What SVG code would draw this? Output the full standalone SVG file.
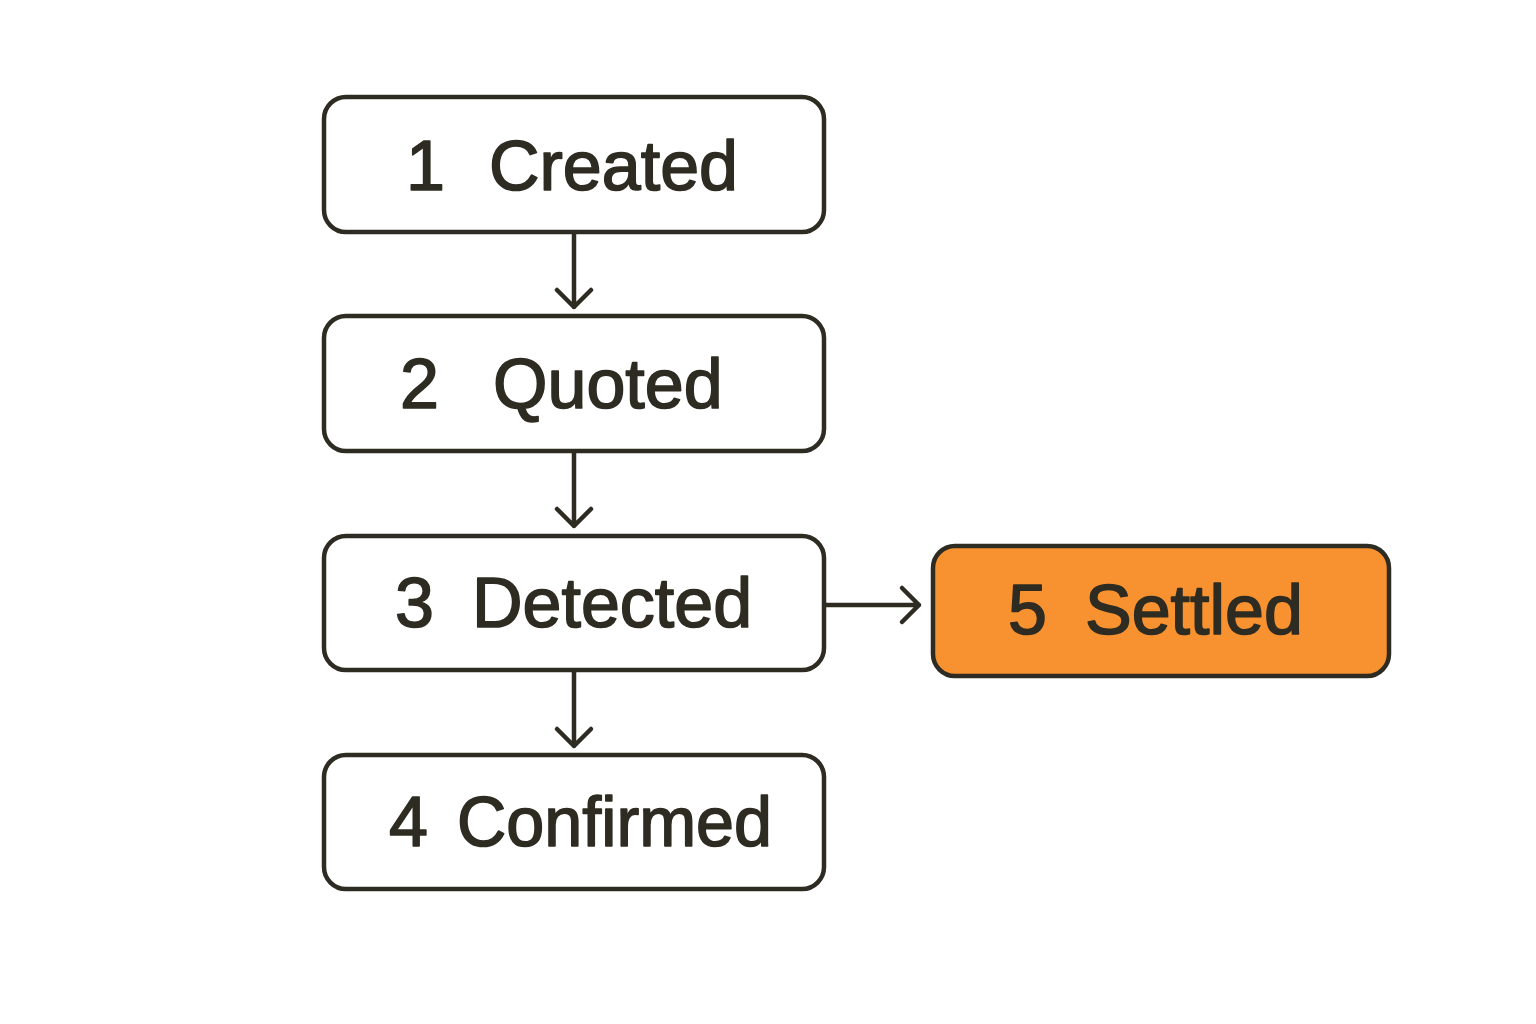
<svg xmlns="http://www.w3.org/2000/svg" width="1536" height="1024" viewBox="0 0 1536 1024">
<style>
.box{fill:#ffffff;stroke:#2e2c22;stroke-width:4.5}
.hl{fill:#f89230;stroke:#2e2c22;stroke-width:4.5}
.t{font-family:"Liberation Sans",Arial,sans-serif;font-size:70px;fill:#2e2c22;stroke:#2e2c22;stroke-width:1.6;stroke-linejoin:round}
.c{fill:none;stroke:#2e2c22;stroke-width:4.5;stroke-linecap:round;stroke-linejoin:round}
</style>
<rect width="1536" height="1024" fill="#ffffff"/>
<g id="connectors">
<path class="c" d="M574 234 V307 M557 290 L574 307 L591 290"/>
<path class="c" d="M574 453 V526 M557 509 L574 526 L591 509"/>
<path class="c" d="M574 672 V746 M557 729 L574 746 L591 729"/>
<path class="c" d="M826 605 H919 M902 588 L919 605 L902 622"/>
</g>
<g id="node1">
<rect class="box" x="324" y="97" width="500" height="135" rx="22"/>
<text class="t"><tspan x="406" y="190">1</tspan><tspan x="489" y="190">Created</tspan></text>
</g>
<g id="node2">
<rect class="box" x="324" y="316" width="500" height="135" rx="22"/>
<text class="t"><tspan x="400" y="408">2</tspan><tspan x="493" y="408">Quoted</tspan></text>
</g>
<g id="node3">
<rect class="box" x="324" y="536" width="500" height="134" rx="22"/>
<text class="t"><tspan x="395" y="627">3</tspan><tspan x="472" y="627">Detected</tspan></text>
</g>
<g id="node4">
<rect class="box" x="324" y="755" width="500" height="134" rx="22"/>
<text class="t"><tspan x="389" y="846">4</tspan><tspan x="457" y="846" textLength="315" lengthAdjust="spacingAndGlyphs">Confirmed</tspan></text>
</g>
<g id="node5">
<rect class="hl" x="933" y="546" width="456" height="130" rx="22"/>
<text class="t"><tspan x="1008" y="634">5</tspan><tspan x="1085" y="634">Settled</tspan></text>
</g>
</svg>
